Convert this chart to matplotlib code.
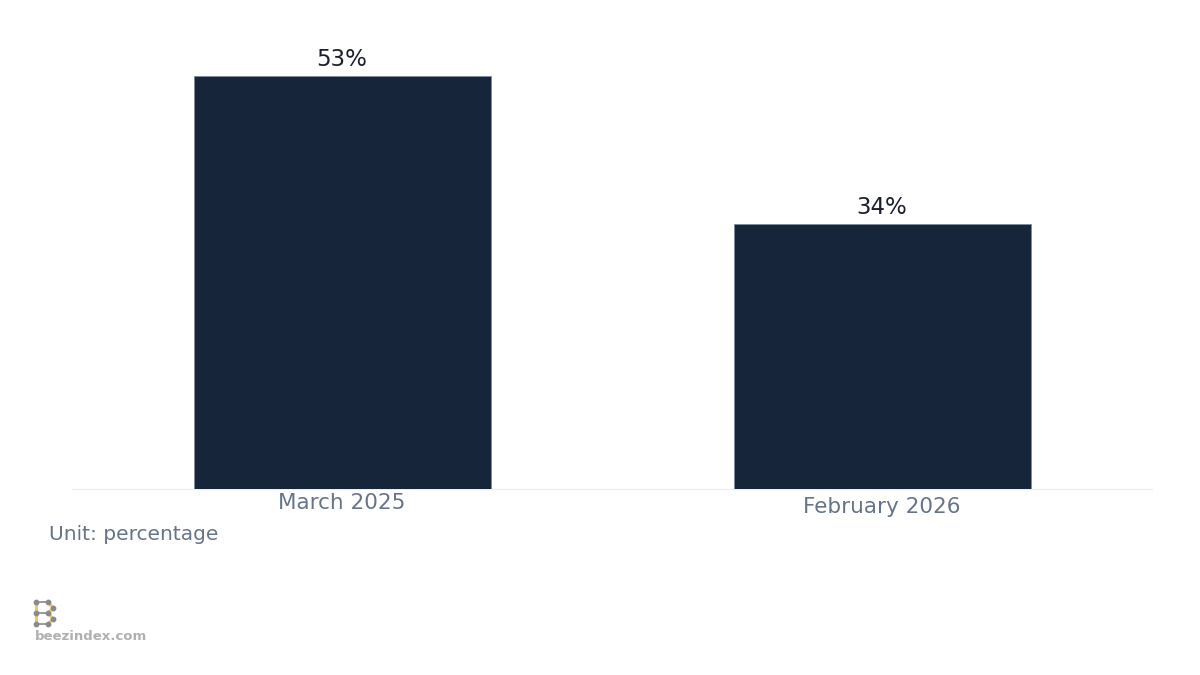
import matplotlib
matplotlib.use("Agg")
import matplotlib.pyplot as plt
import matplotlib.transforms as mtransforms

plt.rcParams["font.family"] = ["DejaVu Sans"]

categories = ["March 2025", "February 2026"]
values = [53, 34]
value_labels = ["53%", "34%"]
unit_note = "Unit: percentage"
brand = "beezindex.com"

BAR = "#17253a"
TICK = "#66748b"

fig = plt.figure(figsize=(12, 6.75), dpi=100)
ax = fig.add_axes([0.06, 1 - 489 / 675, 0.90, (489 - 35) / 675])

x = list(range(len(categories)))
bars = ax.bar(x, values, width=0.55, color=BAR, edgecolor="#7d8ba0", linewidth=0.6, zorder=3)
for b, lab in zip(bars, value_labels):
    ax.annotate(lab, (b.get_x() + b.get_width() / 2, b.get_height()),
                xytext=(0, 4), textcoords="offset points",
                ha="center", va="bottom", fontsize=16.5, color="#1a1f2c")

ax.set_xlim(-0.5, 1.5)
ax.set_ylim(0, 58.3)
ax.set_xticks(x)
ax.set_xticklabels(categories, fontsize=15.5, color=TICK)
ax.tick_params(axis="x", length=0, pad=3)
ax.set_yticks([])
for s in ["top", "right", "left"]:
    ax.spines[s].set_visible(False)
ax.spines["bottom"].set_color("#eeeeee")
ax.spines["bottom"].set_linewidth(1.0)

# second label sits a few px lower in the original
lbl = ax.get_xticklabels()[1]
lbl.set_transform(lbl.get_transform() + mtransforms.ScaledTranslation(0, -4 / 100, fig.dpi_scale_trans))

fig.text(49 / 1200, 1 - 535 / 675, unit_note, fontsize=14.5, color=TICK, ha="left", va="center")

# logo
lax = fig.add_axes([30 / 1200, 1 - 630 / 675, 30 / 1200, 34 / 675])
lax.set_xlim(30, 60); lax.set_ylim(630, 596); lax.axis("off")
xl, xm, xr = 35.7, 47.7, 53.3
yellow = [((xl, 602), (xl, 624)), ((xm, 602), (xr, 608)), ((xr, 608), (xm, 613)),
          ((xm, 613), (xr, 619)), ((xr, 619), (xm, 624))]
grey = [((xl, 602), (xm, 602)), ((xl, 613), (xm, 613)), ((xm, 624), (xl, 624))]
for (a, b) in yellow:
    lax.plot([a[0], b[0]], [a[1], b[1]], color="#f0c46a", lw=2.2, zorder=1,
             solid_capstyle="round")
for (a, b) in grey:
    lax.plot([a[0], b[0]], [a[1], b[1]], color="#9a9a9a", lw=1.4, zorder=1)
nodes = [(xl, 602), (xm, 602), (xr, 608), (xl, 613), (xm, 613), (xr, 619), (xl, 624), (xm, 624)]
lax.scatter([n[0] for n in nodes], [n[1] for n in nodes], s=10, color="#8a8a8a", zorder=2)

fig.text(35 / 1200, 1 - 637 / 675, brand, fontsize=9.5, fontweight="bold", color="#b0b0b0",
         ha="left", va="center")

fig.savefig("out.png", dpi=100)
